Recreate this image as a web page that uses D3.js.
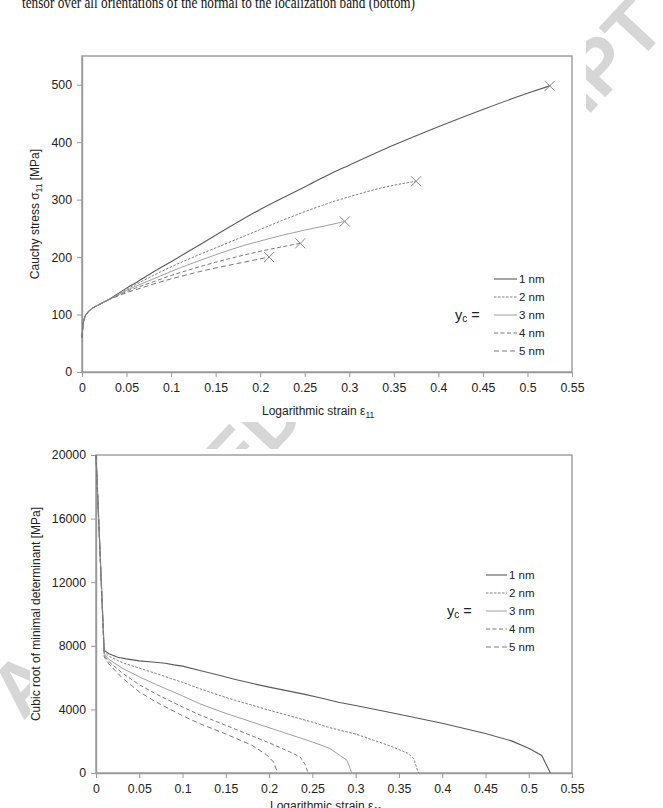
<!DOCTYPE html>
<html><head><meta charset="utf-8">
<script src="https://cdn.jsdelivr.net/npm/d3@7"></script>
<style>html,body{margin:0;padding:0;background:#fff;overflow:hidden}svg{display:block}</style>
</head><body>
<svg id="c" width="663" height="808"></svg>
<script>
// ---------- data ----------
const xTicks = [0, 0.05, 0.1, 0.15, 0.2, 0.25, 0.3, 0.35, 0.4, 0.45, 0.5, 0.55];
const xTickLabels = ["0","0.05","0.1","0.15","0.2","0.25","0.3","0.35","0.4","0.45","0.5","0.55"];
const stressTicks = [0, 100, 200, 300, 400, 500];
const detTicks = [0, 4000, 8000, 12000, 16000, 20000];
const seriesLabels = ["1 nm", "2 nm", "3 nm", "4 nm", "5 nm"];

const stressCommon = [[0,60],[0.001,80],[0.003,95],[0.006,103],[0.01,109],[0.015,114],[0.02,118],[0.03,126]];
const stress1 = [[0.04,136],[0.05,146],[0.06,155],[0.08,174],[0.1,192],[0.125,215],[0.15,238],[0.175,261],[0.2,283],[0.225,303],[0.25,322],[0.275,342],[0.3,360],[0.35,395],[0.4,427],[0.45,457],[0.5,485],[0.525,498]];
const stress2 = [[0.04,135],[0.05,144],[0.06,152],[0.08,168],[0.1,183],[0.125,200],[0.15,216],[0.175,232],[0.2,248],[0.225,264],[0.25,279],[0.275,293],[0.3,305],[0.325,316],[0.35,325],[0.375,332]];
const stress3 = [[0.04,134],[0.05,142],[0.06,149],[0.08,162],[0.1,175],[0.125,190],[0.15,204],[0.175,217],[0.2,228],[0.225,238],[0.25,247],[0.275,255],[0.295,262]];
const stress4 = [[0.04,133],[0.05,140],[0.06,146],[0.08,157],[0.1,168],[0.125,180],[0.15,191],[0.175,201],[0.2,210],[0.225,218],[0.245,224]];
const stress5 = [[0.04,132],[0.05,138],[0.06,143],[0.08,153],[0.1,162],[0.125,172],[0.15,181],[0.175,189],[0.21,200]];
const failureStrain = [0.525, 0.375, 0.295, 0.245, 0.21];
const failureStress = [498, 332, 262, 224, 200];

const det1 = [[0,20000],[0.0095,7700],[0.015,7500],[0.025,7280],[0.035,7180],[0.05,7050],[0.065,6980],[0.08,6900],[0.09,6800],[0.1,6720],[0.12,6450],[0.14,6180],[0.16,5900],[0.18,5640],[0.2,5400],[0.22,5180],[0.24,4960],[0.26,4720],[0.28,4450],[0.3,4250],[0.35,3700],[0.4,3130],[0.45,2480],[0.48,2020],[0.5,1560],[0.515,1100],[0.525,0]];
const det2 = [[0,20000],[0.0095,7600],[0.015,7350],[0.03,6950],[0.05,6600],[0.07,6250],[0.1,5700],[0.12,5300],[0.15,4750],[0.2,3950],[0.25,3200],[0.27,2850],[0.3,2450],[0.32,2075],[0.34,1700],[0.36,1250],[0.367,920],[0.3725,0]];
const det3 = [[0,20000],[0.0095,7500],[0.015,7150],[0.03,6600],[0.05,6050],[0.07,5550],[0.1,4850],[0.12,4350],[0.15,3750],[0.2,2850],[0.25,1950],[0.27,1550],[0.282,1100],[0.29,800],[0.2955,0]];
const det4 = [[0,20000],[0.0095,7400],[0.015,7000],[0.03,6300],[0.05,5550],[0.07,4950],[0.1,4150],[0.12,3650],[0.15,3000],[0.2,1900],[0.225,1300],[0.236,1000],[0.242,500],[0.245,0]];
const det5 = [[0,20000],[0.0095,7300],[0.015,6850],[0.03,6000],[0.05,5100],[0.07,4450],[0.1,3600],[0.12,3100],[0.15,2450],[0.18,1750],[0.197,1150],[0.205,700],[0.21,0]];

// ---------- styles ----------
const seriesColor = ["#5a5a5a", "#808080", "#a0a0a0", "#7a7a7a", "#7a7a7a"];
const seriesDash = [null, "2.5,1.5", null, "4,2.5", "5,3"];
const seriesWidth = [1.1, 1, 1, 1, 1];
const FONT = "'Liberation Sans', Arial, Helvetica, sans-serif";

const svg = d3.select("#c");

// caption (cut off at top)
svg.append("text").attr("x", 22).attr("y", 8)
  .attr("font-family", "'Liberation Serif','Times New Roman',serif").attr("font-size", 16)
  .attr("textLength", 393).attr("lengthAdjust", "spacingAndGlyphs").attr("fill", "#111")
  .text("tensor over all orientations of the normal to the localization band (bottom)");

// watermark behind the figures
svg.append("text").attr("transform", "translate(668,30) rotate(-47)")
  .attr("text-anchor", "end").attr("font-family", FONT).attr("font-weight", "bold")
  .attr("font-size", 76).attr("fill", "#d6d6d6")
  .text("ACCEPTED MANUSCRIPT");

// figure backgrounds
svg.append("rect").attr("x", 24).attr("y", 36).attr("width", 562).attr("height", 386).attr("fill", "#fff");
svg.append("rect").attr("x", 30).attr("y", 449).attr("width", 570).attr("height", 359).attr("fill", "#fff");

function chart(opts) {
  const { left, right, top, bottom, yDomain, yTicks, series, yTitle, yTitleX, xTitleY, xTitleX, legend } = opts;
  const x = d3.scaleLinear().domain([0, 0.55]).range([left, right]);
  const y = d3.scaleLinear().domain(yDomain).range([bottom, top]);
  const g = svg.append("g");

  // frame
  g.append("rect").attr("x", left).attr("y", top).attr("width", right - left).attr("height", bottom - top)
    .attr("fill", "#fff").attr("stroke", "#9a9a9a").attr("stroke-width", 1.4);

  // axes
  const xa = g.append("g").attr("transform", `translate(0,${bottom})`)
    .call(d3.axisBottom(x).tickValues(xTicks).tickFormat((d, i) => xTickLabels[i]).tickSize(5).tickSizeOuter(0).tickPadding(6));
  const ya = g.append("g").attr("transform", `translate(${left},0)`)
    .call(d3.axisLeft(y).tickValues(yTicks).tickFormat(d => String(d)).tickSize(5).tickSizeOuter(0).tickPadding(5));
  [xa, ya].forEach(a => {
    a.select(".domain").attr("stroke", "#9a9a9a").attr("stroke-width", 1.4);
    a.selectAll(".tick line").attr("stroke", "#9a9a9a").attr("stroke-width", 1);
    a.selectAll(".tick text").attr("font-family", FONT).attr("font-size", 12.3).attr("fill", "#222");
  });

  // series
  const line = d3.line().x(d => x(d[0])).y(d => y(d[1])).curve(opts.curve);
  series.forEach((s, i) => {
    g.append("path").attr("d", line(s)).attr("fill", "none")
      .attr("stroke", seriesColor[i]).attr("stroke-width", seriesWidth[i])
      .attr("stroke-dasharray", seriesDash[i]);
  });

  if (opts.markers) {
    failureStrain.forEach((fx, i) => {
      const cx = x(fx), cy = y(failureStress[i]), r = 5;
      g.append("path").attr("d", `M${cx - r},${cy - r}L${cx + r},${cy + r}M${cx - r},${cy + r}L${cx + r},${cy - r}`)
        .attr("stroke", "#888").attr("stroke-width", 1).attr("fill", "none");
    });
  }

  // axis titles
  const xt = g.append("text").attr("x", xTitleX).attr("y", xTitleY).attr("font-family", FONT)
    .attr("font-size", 12).attr("fill", "#222");
  xt.append("tspan").text("Logarithmic strain ε");
  xt.append("tspan").attr("font-size", 8.5).attr("dy", 3).text("11");

  const yt = g.append("text").attr("transform", `translate(${yTitleX},${(top + bottom) / 2}) rotate(-90)`)
    .attr("text-anchor", "middle").attr("font-family", FONT).attr("font-size", 12).attr("fill", "#222");
  yTitle.forEach(p => {
    const t = yt.append("tspan").text(p.t);
    if (p.sub) t.attr("font-size", 8.5).attr("dy", 3);
    if (p.after) t.attr("dy", -3);
  });

  // legend
  const lg = g.append("g");
  seriesLabels.forEach((lab, i) => {
    const yy = legend.y0 + i * legend.dy;
    lg.append("line").attr("x1", legend.lx0).attr("x2", legend.lx1).attr("y1", yy).attr("y2", yy)
      .attr("stroke", seriesColor[i]).attr("stroke-width", seriesWidth[i]).attr("stroke-dasharray", seriesDash[i]);
    lg.append("text").attr("x", legend.lx1 + 2).attr("y", yy + 4.3).attr("font-family", FONT)
      .attr("font-size", 11.5).attr("fill", "#222").text(lab);
  });
  const yc = lg.append("text").attr("x", legend.ycx).attr("y", legend.y0 + 2 * legend.dy + 5)
    .attr("font-family", FONT).attr("font-size", 14.5).attr("fill", "#222");
  yc.append("tspan").text("y");
  yc.append("tspan").attr("font-size", 10).attr("dy", 2).text("c");
  yc.append("tspan").attr("dy", -2).text(" =");
}

chart({
  left: 82, right: 572, top: 56, bottom: 372, yDomain: [0, 550], yTicks: stressTicks,
  series: [stressCommon.concat(stress1), stressCommon.concat(stress2), stressCommon.concat(stress3), stressCommon.concat(stress4), stressCommon.concat(stress5)],
  yTitle: [{ t: "Cauchy stress σ" }, { t: "11", sub: true }, { t: " [MPa]", after: true }],
  yTitleX: 39, xTitleX: 262, xTitleY: 415,
  curve: d3.curveMonotoneX, markers: true,
  legend: { y0: 279, dy: 18, lx0: 494, lx1: 517, ycx: 455 }
});

chart({
  left: 96, right: 572, top: 455, bottom: 773, yDomain: [0, 20000], yTicks: detTicks,
  series: [det1, det2, det3, det4, det5],
  yTitle: [{ t: "Cubic root of minimal determinant [MPa]" }],
  yTitleX: 40, xTitleX: 270, xTitleY: 810,
  curve: d3.curveLinear, markers: false,
  legend: { y0: 575, dy: 18, lx0: 486, lx1: 507, ycx: 447 }
});
</script>
</body></html>
